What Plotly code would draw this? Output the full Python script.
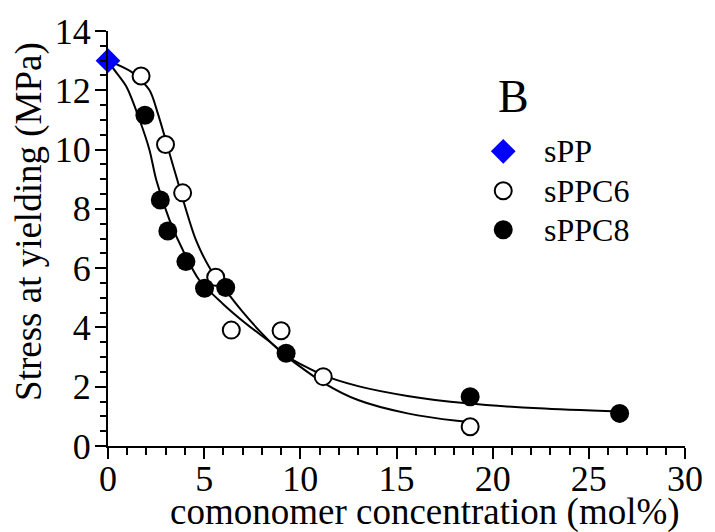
import plotly.graph_objects as go

# ---- data ----
spp_x = [0.0]
spp_y = [13.0]

c6_x = [1.72, 2.99, 3.88, 5.60, 6.41, 9.00, 11.19, 18.83]
c6_y = [12.48, 10.17, 8.54, 5.69, 3.91, 3.89, 2.34, 0.65]

c8_x = [1.92, 2.72, 3.11, 4.05, 5.02, 6.12, 9.26, 18.83, 26.60]
c8_y = [11.16, 8.30, 7.25, 6.22, 5.32, 5.35, 3.13, 1.66, 1.10]

# fitted curves
fit6_x = [0.0, 1.22, 2.16, 2.59, 3.45, 4.57, 5.35, 6.12, 6.97, 8.00, 9.04, 11.19, 13.00, 15.57, 18.14, 18.75]
fit6_y = [13.0, 12.62, 12.00, 11.22, 9.31, 6.95, 5.94, 5.25, 4.55, 3.80, 3.15, 2.14, 1.55, 1.10, 0.85, 0.82]

fit8_x = [0.0, 0.27, 0.96, 1.65, 2.16, 2.51, 3.20, 3.97, 4.74, 5.95, 7.15, 8.52, 9.38, 11.19, 13.00, 15.57, 18.66, 22.40, 26.60]
fit8_y = [13.0, 12.74, 12.12, 10.99, 9.98, 8.97, 7.62, 6.50, 5.60, 4.81, 4.14, 3.46, 3.00, 2.39, 2.02, 1.69, 1.44, 1.27, 1.16]

series_names = ["sPP", "sPPC6", "sPPC8"]
x_title = "comonomer concentration (mol%)"
y_title = "Stress at yielding (MPa)"
panel_label = "B"

FONT = "Liberation Serif, Times New Roman, serif"

# marker styles per series
styles = [
    dict(symbol="diamond", size=19, color="#0000FF", line=dict(width=0)),
    dict(symbol="circle", size=17, color="white", line=dict(color="black", width=2)),
    dict(symbol="circle", size=19, color="black", line=dict(width=0)),
]

fig = go.Figure()

for fx, fy in [(fit6_x, fit6_y), (fit8_x, fit8_y)]:
    fig.add_trace(go.Scatter(x=fx, y=fy, mode="lines",
                             line=dict(color="black", width=2, shape="spline", smoothing=0.8),
                             showlegend=False, hoverinfo="skip"))

for (xs, ys), name, st in zip([(spp_x, spp_y), (c6_x, c6_y), (c8_x, c8_y)], series_names, styles):
    fig.add_trace(go.Scatter(x=xs, y=ys, mode="markers", name=name, marker=st,
                             cliponaxis=False, showlegend=False))

# hand-made legend keys on a hidden overlay axis (0..1 across the plot area)
leg_x = 0.685
leg_y = [0.710, 0.615, 0.521]
leg_text_x = 0.752
for name, st, ly in zip(series_names, styles, leg_y):
    fig.add_trace(go.Scatter(x=[leg_x], y=[ly], mode="markers", marker=st, xaxis="x2", yaxis="y2",
                             showlegend=False, hoverinfo="skip", cliponaxis=False))

axis_common = dict(
    showgrid=False, zeroline=False, showline=True, linecolor="black", linewidth=2,
    ticks="outside", ticklen=11, tickwidth=2, tickcolor="black",
    tickfont=dict(family=FONT, size=36, color="black"),
    mirror=False,
)

fig.update_xaxes(range=[0, 30], tick0=0, dtick=5, ticklabelstandoff=-11,
                 minor=dict(ticks="outside", ticklen=7, tickwidth=2, tickcolor="black", dtick=1),
                 **axis_common)
fig.update_yaxes(range=[0, 14], tick0=0, dtick=2, ticklabelstandoff=-3,
                 minor=dict(ticks="outside", ticklen=6, tickwidth=2, tickcolor="black", dtick=0.5),
                 **axis_common)

annotations = [
    dict(text=y_title, xref="paper", yref="paper", x=-0.1357, y=0.5416, textangle=-90,
         showarrow=False, xanchor="center", yanchor="middle",
         font=dict(family=FONT, size=37, color="black")),
    dict(text=x_title, xref="paper", yref="paper", x=0.550, y=-0.158,
         showarrow=False, xanchor="center", yanchor="middle",
         font=dict(family=FONT, size=37, color="black")),
    dict(text=panel_label, xref="paper", yref="paper", x=0.703, y=0.842,
         showarrow=False, xanchor="center", yanchor="middle",
         font=dict(family=FONT, size=46, color="black")),
]
for name, ly in zip(series_names, leg_y):
    annotations.append(dict(text=name, xref="paper", yref="paper", x=leg_text_x, y=ly,
                            showarrow=False, xanchor="left", yanchor="middle",
                            font=dict(family=FONT, size=32, color="black")))

fig.update_layout(
    width=715, height=532,
    margin=dict(l=108, r=25, t=31, b=86, pad=0),
    paper_bgcolor="white", plot_bgcolor="white",
    font=dict(family=FONT, color="black"),
    showlegend=False,
    xaxis2=dict(overlaying="x", range=[0, 1], visible=False, fixedrange=True),
    yaxis2=dict(overlaying="y", range=[0, 1], visible=False, fixedrange=True),
    annotations=annotations,
)

fig.write_html("out.html", config={"displayModeBar": False},
               post_script="document.body.style.margin='0';")
